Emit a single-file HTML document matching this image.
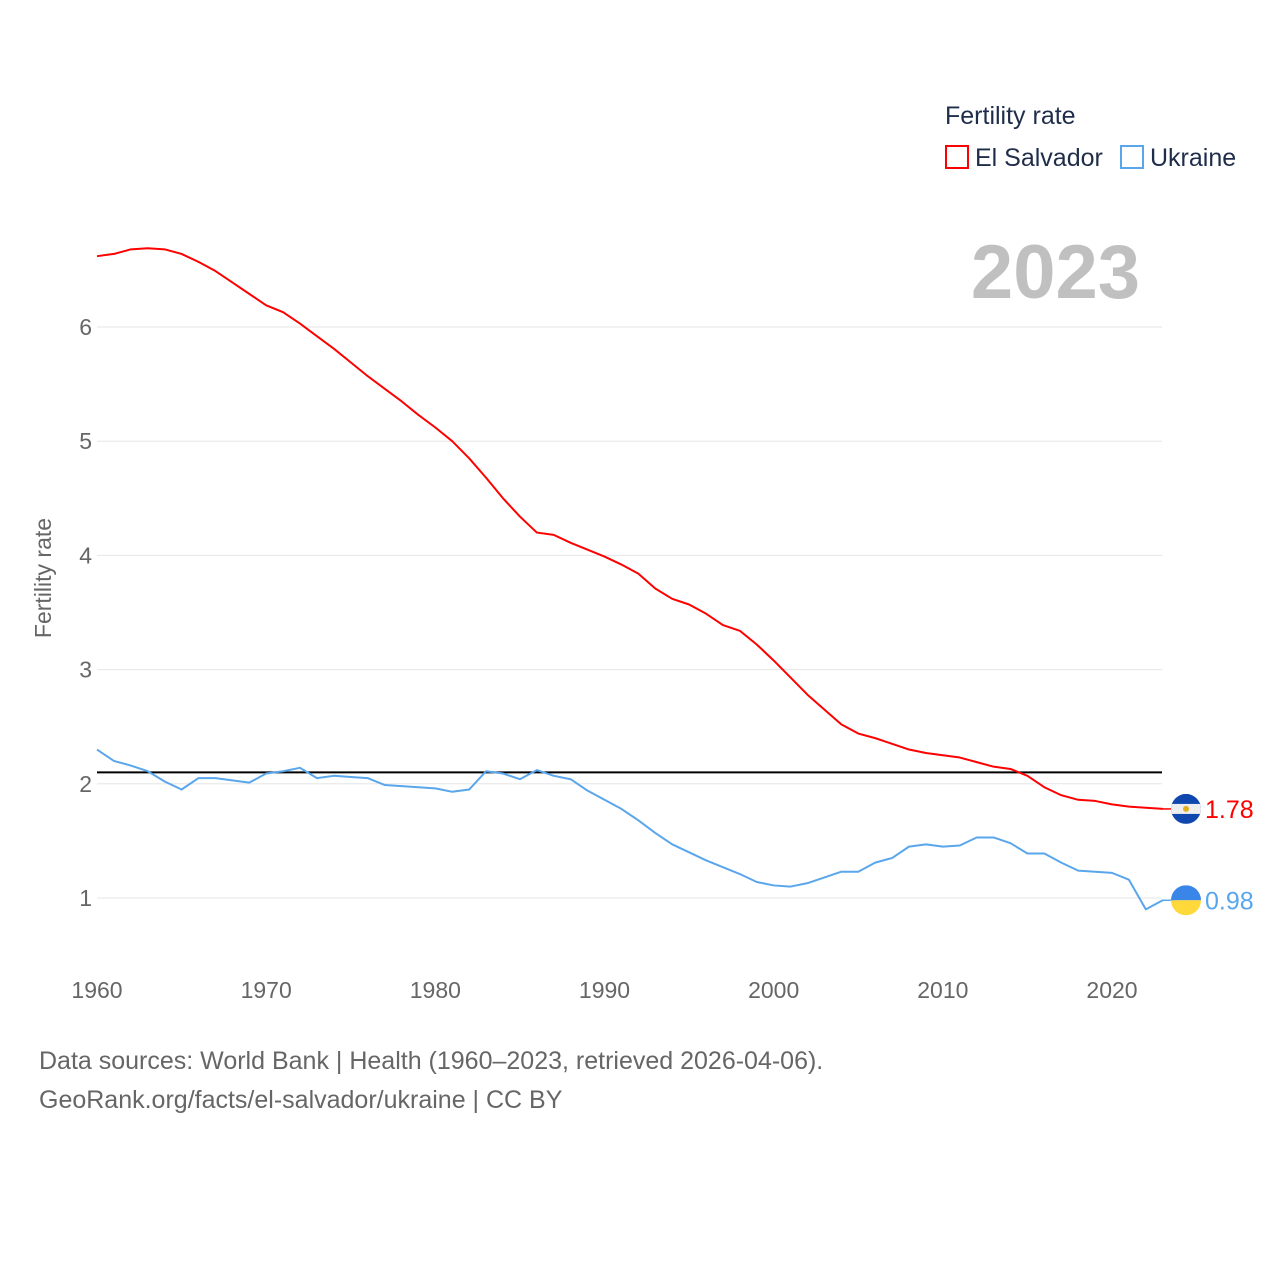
<!DOCTYPE html>
<html><head><meta charset="utf-8">
<style>
body{margin:0;background:#fff;font-family:"Liberation Sans",sans-serif;}
svg text{font-family:"Liberation Sans",sans-serif;}
</style></head>
<body>
<svg id="chart" width="1280" height="1280" viewBox="0 0 1280 1280" xmlns="http://www.w3.org/2000/svg">
<rect width="1280" height="1280" fill="#fff"/>
<g id="grid"></g>
<g id="marks"></g>
<text x="945" y="124" font-size="25" fill="#1f2d4a">Fertility rate</text>
<g>
<rect x="946" y="146" width="22" height="22" fill="none" stroke="#ff0000" stroke-width="2"/>
<text x="975" y="166" font-size="25" fill="#1f2d4a">El Salvador</text></g>
<g>
<rect x="1121" y="146" width="22" height="22" fill="none" stroke="#5aa6ec" stroke-width="2"/>
<text x="1150" y="166" font-size="25" fill="#1f2d4a">Ukraine</text></g>
<text x="1140" y="298" text-anchor="end" font-size="76" font-weight="bold" fill="#c0c0c0">2023</text>
<text transform="translate(51,578) rotate(-90)" text-anchor="middle" font-size="23" fill="#666">Fertility rate</text>
<text x="39" y="1069" font-size="25" fill="#666">Data sources: World Bank | Health (1960–2023, retrieved 2026-04-06).</text>
<text x="39" y="1108" font-size="25" fill="#666">GeoRank.org/facts/el-salvador/ukraine | CC BY</text>
</svg>
<script>
const years=[];for(let y=1960;y<=2023;y++)years.push(y);
const elSalvador=[6.62,6.64,6.68,6.69,6.68,6.64,6.57,6.49,6.39,6.29,6.19,6.13,6.03,5.92,5.81,5.69,5.57,5.46,5.35,5.23,5.12,5.00,4.85,4.68,4.50,4.34,4.20,4.18,4.11,4.05,3.99,3.92,3.84,3.71,3.62,3.57,3.49,3.39,3.34,3.22,3.08,2.93,2.78,2.65,2.52,2.44,2.40,2.35,2.30,2.27,2.25,2.23,2.19,2.15,2.13,2.07,1.97,1.90,1.86,1.85,1.82,1.80,1.79,1.78];
const ukraine=[2.30,2.20,2.16,2.11,2.02,1.95,2.05,2.05,2.03,2.01,2.09,2.11,2.14,2.05,2.07,2.06,2.05,1.99,1.98,1.97,1.96,1.93,1.95,2.11,2.09,2.04,2.12,2.07,2.04,1.94,1.86,1.78,1.68,1.57,1.47,1.40,1.33,1.27,1.21,1.14,1.11,1.10,1.13,1.18,1.23,1.23,1.31,1.35,1.45,1.47,1.45,1.46,1.53,1.53,1.48,1.39,1.39,1.31,1.24,1.23,1.22,1.16,0.90,0.98];
const yTicks=[1,2,3,4,5,6];
const xTicks=[1960,1970,1980,1990,2000,2010,2020];
const replacementRate=2.1;
const NS="http://www.w3.org/2000/svg";
const xS=y=>97+(y-1960)*(1112-97)/60;
const yS=v=>898-(v-1)*114.2;
const grid=document.getElementById('grid'),marks=document.getElementById('marks');
function mk(tag,at,par){const e=document.createElementNS(NS,tag);for(const k in at)e.setAttribute(k,at[k]);par.appendChild(e);return e;}
yTicks.forEach(t=>{
 const l=mk('line',{x1:97,x2:1162,y1:yS(t),y2:yS(t),stroke:'#e6e6e6','stroke-width':1},grid);
 
 
 const tx=mk('text',{x:92,y:yS(t)+8,'text-anchor':'end','font-size':23,fill:'#666'},grid);
 tx.textContent=t;
 
 
});
xTicks.forEach(t=>{
 const tx=mk('text',{x:xS(t),y:998,'text-anchor':'middle','font-size':23,fill:'#666'},grid);
 tx.textContent=t;
 
 
});
const rl=mk('line',{x1:97,x2:1162,y1:yS(replacementRate),y2:yS(replacementRate),stroke:'#000','stroke-width':2},marks);


function series(vals,color,name){
 const p=mk('polyline',{points:vals.map((v,i)=>xS(years[i])+','+yS(v)).join(' '),fill:'none',stroke:color,'stroke-width':2,'stroke-linejoin':'round'},marks);
 
 
 const last=vals[vals.length-1],ly=yS(last);
 const c=mk('line',{x1:1162,x2:1174,y1:ly,y2:ly,stroke:color,'stroke-width':1.5},marks);
 
 
 const t=mk('text',{x:1205,y:ly+9,'font-size':25,fill:color},marks);
 t.textContent=last.toFixed(2);
 
 
 return ly;
}
const ly1=series(elSalvador,'#ff0000','el-salvador');
const ly2=series(ukraine,'#5aa6ec','ukraine');
// flags
const f1=mk('g',{},marks);


mk('clipPath',{id:'c1'},f1).appendChild(Object.assign(document.createElementNS(NS,'circle'),{}));
const cp1=f1.querySelector('clipPath circle');cp1.setAttribute('cx',1186);cp1.setAttribute('cy',ly1);cp1.setAttribute('r',15);
const g1=mk('g',{'clip-path':'url(#c1)'},f1);
mk('rect',{x:1171,y:ly1-15,width:30,height:30,fill:'#0f47af'},g1);
mk('rect',{x:1171,y:ly1-5,width:30,height:10,fill:'#eee'},g1);
mk('circle',{cx:1186,cy:ly1,r:3,fill:'#e0b020'},g1);
const f2=mk('g',{},marks);


const cp=mk('clipPath',{id:'c2'},f2);mk('circle',{cx:1186,cy:ly2,r:15},cp);
const g2=mk('g',{'clip-path':'url(#c2)'},f2);
mk('rect',{x:1171,y:ly2-15,width:30,height:15,fill:'#3a86e8'},g2);
mk('rect',{x:1171,y:ly2,width:30,height:15,fill:'#ffd83a'},g2);
</script>
</body></html>
